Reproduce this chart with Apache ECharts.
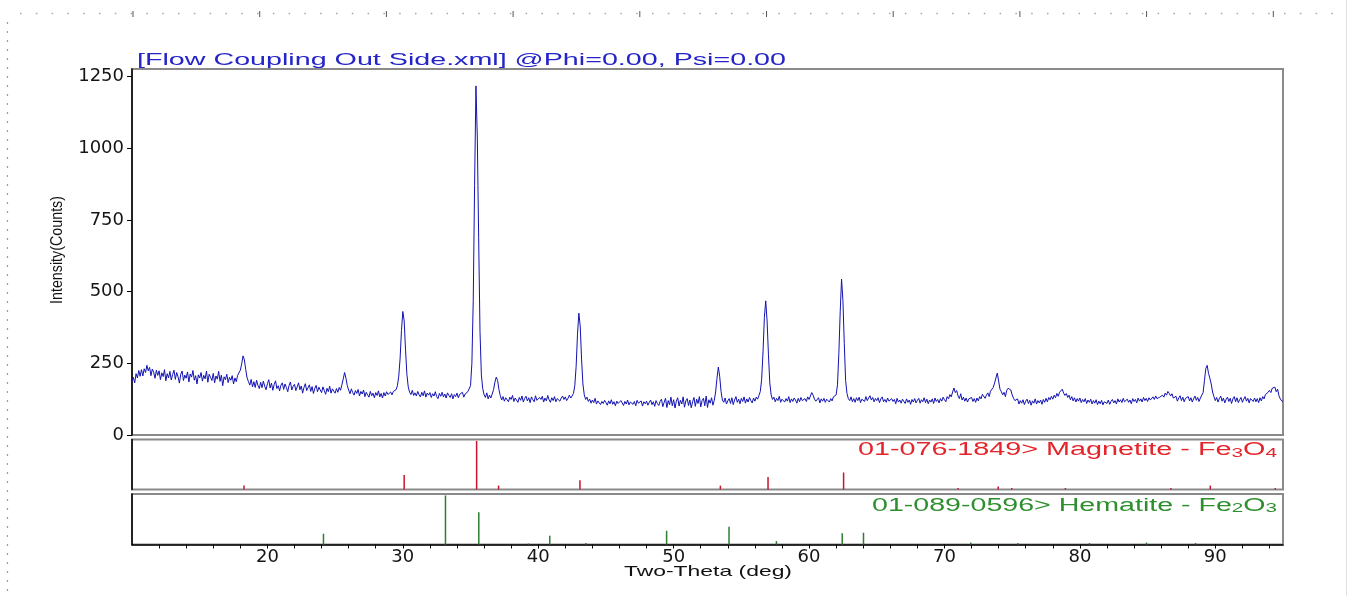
<!DOCTYPE html>
<html><head><meta charset="utf-8">
<script src="https://cdn.jsdelivr.net/npm/echarts@6/dist/echarts.min.js"></script>
<style>html,body{margin:0;padding:0;background:#fff}#c{width:1349px;height:596px}</style>
</head><body><div id="c"></div>
<script>
// ---------------- data ----------------
const titleText = '[Flow Coupling Out Side.xml] @Phi=0.00, Psi=0.00';
const yAxisTitle = 'Intensity(Counts)';
const xAxisTitle = 'Two-Theta (deg)';
const magnetiteLabel = ['01-076-1849> Magnetite - Fe', '3', 'O', '4'];
const hematiteLabel = ['01-089-0596> Hematite - Fe', '2', 'O', '3'];

// scan grid (deg 2θ) and counts, one row per degree
const thetaStart = 10.0;
const thetaStep = 0.1;
const intensity = [
188,201,182,214,199,225,205,228,206,231,
218,243,224,236,207,230,219,198,226,208,
224,193,217,204,228,189,214,199,222,192,
211,226,194,218,203,181,212,223,190,209,
198,220,185,213,202,225,191,207,178,210,
199,218,188,208,196,223,184,212,201,190,
215,182,206,195,222,187,209,172,203,193,
212,183,201,191,207,178,199,186,208,214,
226,248,276,262,228,199,186,174,194,168,
186,166,191,173,162,184,165,188,170,158,
179,193,164,181,156,176,189,162,172,154,
174,182,159,178,166,151,173,185,157,170,
177,155,168,182,158,171,146,166,179,155,
165,175,152,169,145,163,173,151,167,157,
148,168,155,142,163,151,170,146,161,153,
146,162,149,166,156,175,196,218,198,172,
157,144,161,148,139,155,145,159,136,152,
143,157,134,149,140,132,152,137,146,130,
148,138,154,133,145,129,148,136,151,141,
136,150,140,152,146,158,172,205,268,365,
431,398,296,212,168,149,141,156,138,147,
136,152,140,133,149,137,154,132,146,139,
148,131,144,136,151,134,127,145,135,149,
133,143,129,147,138,131,144,126,141,134,
146,130,142,136,149,132,143,138,151,157,
172,250,470,870,1218,1040,690,360,210,162,
141,131,147,126,139,129,143,158,184,202,
190,158,137,122,134,118,130,136,116,132,
124,138,117,129,134,114,131,121,136,115,
128,135,119,130,113,133,123,116,137,121,
117,131,124,135,115,129,119,138,123,114,
130,120,134,116,127,132,118,129,136,124,
133,120,128,139,129,136,145,172,240,352,
425,380,265,178,140,124,132,117,125,111,
122,113,128,108,119,124,106,117,110,121,
113,104,119,109,123,107,116,102,118,110,
106,120,112,103,117,108,122,105,115,119,
107,117,102,121,111,105,119,101,116,109,
118,104,114,122,106,116,100,120,110,103,
117,125,99,114,128,96,120,106,132,102,
123,94,118,130,101,121,108,133,97,119,
127,103,122,95,116,131,100,125,110,134,
98,120,128,102,136,96,123,111,130,104,
121,150,198,237,205,152,122,114,129,108,
119,127,110,130,106,122,134,114,125,109,
128,117,133,111,126,115,131,120,112,129,
118,132,125,138,152,195,290,410,468,398,
282,182,140,124,132,116,128,120,135,114,
125,130,115,127,118,134,113,126,117,129,
122,111,128,116,131,120,114,127,117,133,
124,136,148,139,125,118,117,130,112,126,
118,128,114,125,131,115,127,119,133,128,
140,175,285,430,544,470,320,190,145,127,
120,133,116,127,114,130,120,132,113,125,
128,117,134,120,129,137,122,131,116,127,
120,130,113,126,133,116,124,114,129,118,
112,127,117,124,109,128,115,122,111,125,
117,110,126,114,122,107,124,115,127,112,
121,128,111,123,116,130,113,125,109,122,
115,126,110,129,117,124,112,127,118,132,
123,116,134,126,141,133,150,164,148,155,
137,127,144,122,132,118,129,115,126,120,
131,117,127,114,129,119,134,126,142,136,
128,139,147,134,153,148,166,181,199,216,
188,160,151,140,149,134,156,163,169,157,
140,128,120,114,126,108,120,111,123,106,
118,125,110,121,104,119,111,126,108,120,
112,122,107,124,114,128,116,131,123,135,
125,139,130,145,135,149,152,160,146,138,
145,131,139,123,134,119,130,115,127,118,
129,113,124,116,127,110,122,114,125,108,
120,111,123,106,118,109,121,105,116,119,
110,122,107,117,124,112,120,108,126,115,
123,113,128,116,111,125,114,122,109,127,
117,124,112,129,118,126,115,131,120,128,
117,130,122,121,133,124,136,127,123,132,
126,139,132,146,139,152,145,136,144,129,
125,135,118,129,137,120,132,116,128,122,
134,119,130,115,127,136,121,131,117,129,
132,148,190,232,243,215,198,178,150,134,
120,131,115,127,136,118,129,112,125,132,
117,128,110,126,134,116,130,113,123,131,
114,125,134,118,128,112,127,132,117,129,
116,127,113,130,119,134,126,141,135,149,
156,148,163,157,167,151,160,137,126,119,
117
];

// reference pattern sticks (2θ, relative intensity %)
const magnetitePos = [18.27, 30.10, 35.45, 37.07, 43.08, 53.45, 56.97, 62.55, 71.0, 73.97, 74.97, 78.93, 86.72, 89.63, 94.43];
const magnetiteRel = [8, 30, 100, 8, 19, 8, 26, 35, 3, 6, 3, 3, 3, 8, 3];
const hematitePos = [24.14, 33.15, 35.61, 39.28, 40.85, 43.52, 49.48, 54.09, 57.59, 62.45, 64.02, 71.94, 75.43, 80.71, 84.92, 88.54];
const hematiteRel = [22, 100, 66, 2, 18, 3, 28, 36, 7, 23, 24, 4, 3, 3, 4, 3];

// axis ticks
const yTicks = [0, 250, 500, 750, 1000, 1250];
const xLabelTicks = [20, 30, 40, 50, 60, 70, 80, 90];
const xTicks = [12,14,16,18,20,22,24,26,28,30,32,34,36,38,40,42,44,46,48,50,52,54,56,58,60,62,64,66,68,70,72,74,76,78,80,82,84,86,88,90,92,94];

// ---------------- build ----------------
const pattern = intensity.map((v, i) => [+(thetaStart + i * thetaStep).toFixed(2), v]);
const magData = magnetitePos.map((p, i) => [p, magnetiteRel[i]]);
const hemData = hematitePos.map((p, i) => [p, hematiteRel[i]]);

const SANS = '"Liberation Sans", Arial, sans-serif';
const WIDE = '"DejaVu Sans", sans-serif';
const mctx = document.createElement('canvas').getContext('2d');
function tw(t, size, fam) { mctx.font = size + 'px ' + fam; return mctx.measureText(t).width; }

const chart = echarts.init(document.getElementById('c'), null, { renderer: 'canvas' });

const G = { left: 132, width: 1151 };
const frame = { show: true, borderColor: '#8a8a8a', borderWidth: 2, backgroundColor: 'transparent' };

function phaseLabel(parts, color, x, y, targetW) {
  const mainSize = 18, subSize = 13;
  const w = tw(parts[0], mainSize, SANS) + tw(parts[1], subSize, SANS) + tw(parts[2], mainSize, SANS) + tw(parts[3], subSize, SANS);
  return {
    type: 'text', x: x, y: y, scaleX: targetW / w, silent: true,
    style: {
      text: '{m|' + parts[0] + '}{s|' + parts[1] + '}{m|' + parts[2] + '}{s|' + parts[3] + '}',
      align: 'right', verticalAlign: 'middle', fill: color,
      rich: {
        m: { fontSize: mainSize, fontFamily: SANS, lineHeight: 20, verticalAlign: 'bottom', fill: color },
        s: { fontSize: subSize, fontFamily: SANS, lineHeight: 20, verticalAlign: 'bottom', fill: color }
      }
    }
  };
}

const graphics = [];
// page rulers (decoration of the original screenshot)
graphics.push({ type: 'line', silent: true, shape: { x1: 20, y1: 13.5, x2: 1345, y2: 13.5 }, style: { stroke: '#a5a5a5', lineWidth: 1.5, lineDash: [1.5, 14.3] } });
for (let k = 0; k < 10; k++) {
  const xx = 133 + k * 126.7;
  graphics.push({ type: 'line', silent: true, shape: { x1: xx, y1: 11, x2: xx, y2: 17 }, style: { stroke: '#555', lineWidth: 1 } });
}
graphics.push({ type: 'line', silent: true, shape: { x1: 7.5, y1: 22, x2: 7.5, y2: 596 }, style: { stroke: '#9a9a9a', lineWidth: 1.2, lineDash: [2, 7] } });
graphics.push({ type: 'line', silent: true, shape: { x1: 1346.5, y1: 0, x2: 1346.5, y2: 596 }, style: { stroke: '#e2e2e2', lineWidth: 1 } });

// title
graphics.push({
  type: 'text', x: 137, y: 60.5, scaleX: 649 / tw(titleText, 17, SANS), silent: true,
  style: { text: titleText, fontSize: 17, fontFamily: SANS, fill: '#2424c8', align: 'left', verticalAlign: 'middle' }
});
// axis titles
graphics.push({
  type: 'text', x: 708, y: 571.5, scaleX: 168 / tw(xAxisTitle, 15, SANS), silent: true,
  style: { text: xAxisTitle, fontSize: 15, fontFamily: SANS, fill: '#111', align: 'center', verticalAlign: 'middle' }
});
graphics.push({
  type: 'text', x: 57.5, y: 250, rotation: Math.PI / 2, scaleX: 108 / tw(yAxisTitle, 14.5, SANS), scaleY: 1.15, silent: true,
  style: { text: yAxisTitle, fontSize: 14.5, fontFamily: SANS, fill: '#111', align: 'center', verticalAlign: 'middle' }
});
graphics.push(phaseLabel(magnetiteLabel, '#e4252b', 1277, 449.5, 419));
graphics.push(phaseLabel(hematiteLabel, '#2f8f2f', 1277, 505, 405));

const plainNum = v => String(v);

const option = {
  animation: false,
  backgroundColor: '#ffffff',
  grid: [
    Object.assign({ left: G.left, width: G.width, top: 69, height: 366 }, frame),
    Object.assign({ left: G.left, width: G.width, top: 439.5, height: 50 }, frame),
    Object.assign({ left: G.left, width: G.width, top: 494, height: 50.5 }, frame)
  ],
  xAxis: [
    { gridIndex: 0, type: 'value', min: 10, max: 95, show: false },
    { gridIndex: 1, type: 'value', min: 10, max: 95, show: false },
    {
      gridIndex: 2, type: 'value', min: 10, max: 95,
      axisLine: { show: true, onZero: false, lineStyle: { color: '#000', width: 1.5 } },
      axisTick: { show: true, customValues: xTicks, length: 4, lineStyle: { color: '#000', width: 1 } },
      axisLabel: { customValues: xLabelTicks, formatter: plainNum, fontFamily: WIDE, fontSize: 18, color: '#151515', margin: 4 },
      splitLine: { show: false }
    }
  ],
  yAxis: [
    {
      gridIndex: 0, type: 'value', min: 0, max: 1277,
      axisLine: { show: true, lineStyle: { color: '#000', width: 1.5 } },
      axisTick: { show: true, customValues: yTicks, length: 5, lineStyle: { color: '#000', width: 1 } },
      axisLabel: { customValues: yTicks, formatter: plainNum, fontFamily: WIDE, fontSize: 18, color: '#151515', margin: 8 },
      splitLine: { show: false }
    },
    {
      gridIndex: 1, type: 'value', min: 0, max: 103,
      axisLine: { show: true, lineStyle: { color: '#000', width: 1.5 } },
      axisTick: { show: false }, axisLabel: { show: false }, splitLine: { show: false }
    },
    {
      gridIndex: 2, type: 'value', min: 0, max: 103,
      axisLine: { show: true, lineStyle: { color: '#000', width: 1.5 } },
      axisTick: { show: false }, axisLabel: { show: false }, splitLine: { show: false }
    }
  ],
  series: [
    {
      type: 'line', xAxisIndex: 0, yAxisIndex: 0, data: pattern, showSymbol: false, symbol: 'none',
      lineStyle: { color: '#1212b2', width: 1 }, silent: true
    },
    {
      type: 'bar', xAxisIndex: 1, yAxisIndex: 1, data: magData, barWidth: 1.5,
      itemStyle: { color: '#c8142e' }, silent: true
    },
    {
      type: 'bar', xAxisIndex: 2, yAxisIndex: 2, data: hemData, barWidth: 1.5,
      itemStyle: { color: '#2e7d32' }, silent: true
    }
  ],
  graphic: graphics
};
chart.setOption(option);
</script>
</body></html>
